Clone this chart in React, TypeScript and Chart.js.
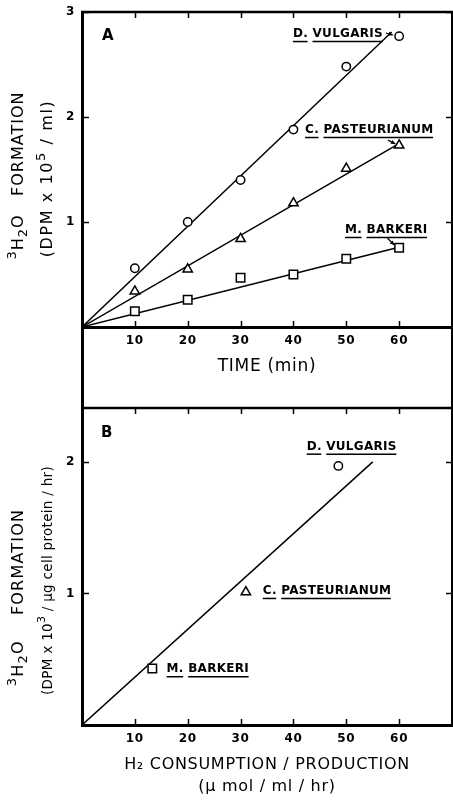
import React, { useEffect, useRef } from 'react';
import { Chart, registerables } from 'chart.js';
Chart.register(...registerables);

// ---------- Panel A data (TIME vs 3H2O formation, DPM x 10^5/ml) ----------
const timeMin = [10, 20, 30, 40, 50, 60];
const dVulgarisA = [0.56, 1.0, 1.4, 1.88, 2.48, 2.77];
const cPasteurianumA = [0.34, 0.55, 0.84, 1.18, 1.51, 1.73];
const mBarkeriA = [0.15, 0.26, 0.47, 0.5, 0.65, 0.755];
// fitted lines, panel A
const fitDvX = [0, 58.6];
const fitDvY = [0, 2.81];
const fitCpX = [0, 59.4];
const fitCpY = [0, 1.73];
const fitMbX = [0, 59.2];
const fitMbY = [0, 0.75];

// ---------- Panel B data (H2 consumption/production vs 3H2O formation) ----------
const speciesB = ['M. BARKERI', 'C. PASTEURIANUM', 'D. VULGARIS'];
const h2RateB = [13.3, 31.0, 48.5];
const tritiumB = [0.43, 1.01, 1.97];
const fitBX = [0, 55];
const fitBY = [0, 2.0];

// ---------- axes ----------
const xTickVals = [10, 20, 30, 40, 50, 60];
const yTicksA = [1, 2, 3];
const yTicksB = [1, 2];
const xMax = 70;
const yMaxA = 3;
const yMaxB = 2.41;

const FAMILY = "'DejaVu Sans', sans-serif";

const pts = (xs: number[], ys: number[]) => xs.map((x, i) => ({ x, y: ys[i] }));

type Part = { t: string; sup?: boolean; sub?: boolean };

function drawRich(ctx: CanvasRenderingContext2D, cx: number, cy: number, parts: Part[], size: number, rot: number, spacing: number) {
  ctx.save();
  ctx.translate(cx, cy);
  ctx.rotate(rot);
  ctx.letterSpacing = spacing + 'px';
  const fontFor = (p: Part) => `${p.sup || p.sub ? Math.round(size * 0.8) : size}px ${FAMILY}`;
  const widths = parts.map((p) => {
    ctx.font = fontFor(p);
    return ctx.measureText(p.t).width;
  });
  const total = widths.reduce((a, b) => a + b, 0);
  let x = -total / 2;
  ctx.textBaseline = 'middle';
  ctx.textAlign = 'left';
  ctx.fillStyle = '#000';
  parts.forEach((p, i) => {
    ctx.font = fontFor(p);
    const dy = p.sup ? -size * 0.42 : p.sub ? size * 0.32 : 0;
    ctx.fillText(p.t, x, dy);
    x += widths[i];
  });
  ctx.restore();
}

type LabelDef = { text: string; x: number; y: number; arrow?: [number, number, number, number] };

const labelsA: LabelDef[] = [
  { text: 'D. VULGARIS', x: 39.9, y: 2.79, arrow: [57.5, 2.8, 58.8, 2.78] },
  { text: 'C. PASTEURIANUM', x: 42.2, y: 1.876, arrow: [57.9, 1.78, 59.3, 1.743] },
  { text: 'M. BARKERI', x: 49.75, y: 0.924, arrow: [57.8, 0.845, 59.1, 0.78] },
];
const labelsB: LabelDef[] = [
  { text: speciesB[2], x: 42.5, y: 2.116 },
  { text: speciesB[1], x: 34.2, y: 1.019 },
  { text: speciesB[0], x: 16.0, y: 0.424 },
];

type YTitle = { lines: Part[][]; xs: number[]; dys: number[]; sizes: number[]; spacing: number[] };

function makePlugins(opts: {
  letter: string;
  letterPos: [number, number];
  labels: LabelDef[];
  frameBottom: number | null;
  yTitle: YTitle;
}) {
  return [
    {
      id: 'spacing',
      beforeDraw(chart: any) {
        chart.ctx.letterSpacing = '0.7px';
      },
    },
    {
      id: 'annot',
      afterDatasetsDraw(chart: any) {
        const { ctx, scales } = chart;
        const xs = scales.x;
        const ys = scales.y;
        ctx.save();
        ctx.fillStyle = '#000';
        ctx.strokeStyle = '#000';
        ctx.letterSpacing = '0.3px';
        ctx.font = `bold 12px ${FAMILY}`;
        ctx.textBaseline = 'middle';
        ctx.textAlign = 'left';
        opts.labels.forEach((l) => {
          const px = xs.getPixelForValue(l.x);
          const py = ys.getPixelForValue(l.y);
          ctx.fillText(l.text, px, py);
          // underline each word separately
          const words = l.text.split(' ');
          let cx = px;
          ctx.lineWidth = 1.5;
          words.forEach((w: string, i: number) => {
            const ww = ctx.measureText(w).width;
            ctx.beginPath();
            ctx.moveTo(cx, py + 7.5);
            ctx.lineTo(cx + ww - 0.5, py + 7.5);
            ctx.stroke();
            cx += ww + (i < words.length - 1 ? ctx.measureText(' ').width : 0);
          });
          if (l.arrow) {
            const [x1, y1, x2, y2] = l.arrow;
            const ax = xs.getPixelForValue(x1);
            const ay = ys.getPixelForValue(y1);
            const bx = xs.getPixelForValue(x2);
            const by = ys.getPixelForValue(y2);
            ctx.lineWidth = 1.3;
            ctx.beginPath();
            ctx.moveTo(ax, ay);
            ctx.lineTo(bx, by);
            ctx.stroke();
            const ang = Math.atan2(by - ay, bx - ax);
            ctx.beginPath();
            ctx.moveTo(bx, by);
            ctx.lineTo(bx - 5 * Math.cos(ang - 0.45), by - 5 * Math.sin(ang - 0.45));
            ctx.lineTo(bx - 5 * Math.cos(ang + 0.45), by - 5 * Math.sin(ang + 0.45));
            ctx.closePath();
            ctx.fill();
          }
        });
        // panel letter
        ctx.font = `bold 15px ${FAMILY}`;
        ctx.letterSpacing = '0px';
        ctx.fillText(opts.letter, chart.chartArea.left + opts.letterPos[0], chart.chartArea.top + opts.letterPos[1]);
        ctx.restore();
      },
    },
    {
      id: 'frame',
      afterDraw(chart: any) {
        const { ctx, chartArea, scales } = chart;
        const { left, right, top, bottom } = chartArea;
        const xs = scales.x;
        const ys = scales.y;
        ctx.save();
        ctx.strokeStyle = '#000';
        // top line
        ctx.lineWidth = 2.5;
        ctx.beginPath();
        ctx.moveTo(left - 1, top);
        ctx.lineTo(right + 1, top);
        ctx.stroke();
        // right line
        const fb = opts.frameBottom ?? bottom;
        ctx.lineWidth = 2;
        ctx.beginPath();
        ctx.moveTo(right, top);
        ctx.lineTo(right, fb + 1);
        ctx.stroke();
        // left line extension below the x axis
        if (opts.frameBottom !== null) {
          ctx.lineWidth = 3;
          ctx.beginPath();
          ctx.moveTo(left + 0.5, bottom);
          ctx.lineTo(left + 0.5, fb + 1);
          ctx.stroke();
        }
        // inward ticks on all four sides
        ctx.lineWidth = 1.5;
        xs.ticks.forEach((_t: any, i: number) => {
          const px = Math.round(xs.getPixelForTick(i)) + 0.5;
          ctx.beginPath();
          ctx.moveTo(px, bottom);
          ctx.lineTo(px, bottom - 6);
          ctx.moveTo(px, top);
          ctx.lineTo(px, top + 6);
          ctx.stroke();
        });
        ys.ticks.forEach((_t: any, i: number) => {
          const py = Math.round(ys.getPixelForTick(i)) + 0.5;
          ctx.beginPath();
          ctx.moveTo(left, py);
          ctx.lineTo(left + 7, py);
          ctx.moveTo(right, py);
          ctx.lineTo(right - 6, py);
          ctx.stroke();
        });
        // y-axis title (rotated rich text)
        const mid = (top + bottom) / 2;
        opts.yTitle.lines.forEach((parts, i) => {
          drawRich(ctx, opts.yTitle.xs[i], mid + opts.yTitle.dys[i], parts, opts.yTitle.sizes[i], -Math.PI / 2, opts.yTitle.spacing[i]);
        });
        ctx.restore();
      },
    },
  ];
}

const tickFont = { family: FAMILY, size: 12, weight: 'bold' as const };

function xScale(height: number, title: any) {
  return {
    type: 'linear' as const,
    min: 0,
    max: xMax,
    afterBuildTicks: (s: any) => {
      s.ticks = xTickVals.map((v) => ({ value: v }));
    },
    afterFit: (s: any) => {
      s.height = height;
      s.paddingLeft = 0;
      s.paddingRight = 0;
    },
    grid: { display: false, drawTicks: false },
    border: { display: true, width: 3, color: '#000' },
    ticks: { color: '#000', font: tickFont, padding: 7, maxRotation: 0, autoSkip: false },
    title,
  };
}

function yScale(max: number, tickVals: number[]) {
  return {
    type: 'linear' as const,
    min: 0,
    max,
    afterBuildTicks: (s: any) => {
      s.ticks = tickVals.map((v) => ({ value: v }));
    },
    afterFit: (s: any) => {
      s.width = 82;
      s.paddingTop = 0;
      s.paddingBottom = 0;
    },
    grid: { display: false, drawTicks: false },
    border: { display: true, width: 3, color: '#000' },
    ticks: { color: '#000', font: tickFont, padding: 7, autoSkip: false },
  };
}

const markerBase = {
  showLine: false,
  borderColor: '#000',
  backgroundColor: '#fff',
  borderWidth: 1.5,
};
const lineBase = {
  showLine: true,
  borderColor: '#000',
  borderWidth: 1.5,
  pointRadius: 0,
  fill: false,
};

export default function App() {
  const refA = useRef<HTMLCanvasElement>(null);
  const refB = useRef<HTMLCanvasElement>(null);

  useEffect(() => {
    const chartA = new Chart(refA.current as HTMLCanvasElement, {
      type: 'scatter',
      data: {
        datasets: [
          { ...markerBase, label: 'D. vulgaris', data: pts(timeMin, dVulgarisA), pointStyle: 'circle', pointRadius: 4.2, order: 0 },
          { ...markerBase, label: 'C. pasteurianum', data: pts(timeMin, cPasteurianumA), pointStyle: 'triangle', pointRadius: 5.4, order: 0 },
          { ...markerBase, label: 'M. barkeri', data: pts(timeMin, mBarkeriA), pointStyle: 'rect', pointRadius: 6, order: 0 },
          { ...lineBase, label: 'fit D', data: pts(fitDvX, fitDvY), order: 1 },
          { ...lineBase, label: 'fit C', data: pts(fitCpX, fitCpY), order: 1 },
          { ...lineBase, label: 'fit M', data: pts(fitMbX, fitMbY), order: 1 },
        ] as any,
      },
      options: {
        animation: false,
        responsive: false,
        events: [],
        layout: { autoPadding: false, padding: { top: 12, right: 1, left: 0, bottom: 0 } },
        plugins: { legend: { display: false }, tooltip: { enabled: false } },
        scales: {
          x: xScale(83, {
            display: true,
            text: 'TIME (min)',
            color: '#000',
            font: { family: FAMILY, size: 17 },
            padding: { top: 0, bottom: 33 },
          }),
          y: yScale(yMaxA, yTicksA),
        } as any,
      },
      plugins: makePlugins({
        letter: 'A',
        letterPos: [20, 24],
        labels: labelsA,
        frameBottom: 408,
        yTitle: {
          lines: [
            [{ t: '3', sup: true }, { t: 'H' }, { t: '2', sub: true }, { t: 'O   FORMATION' }],
            [{ t: '(DPM x 10' }, { t: '5', sup: true }, { t: ' / ml)' }],
          ],
          xs: [19, 48],
          dys: [6, 9],
          sizes: [16, 16],
          spacing: [1, 1.6],
        },
      }) as any,
    });

    const chartB = new Chart(refB.current as HTMLCanvasElement, {
      type: 'scatter',
      data: {
        datasets: [
          { ...markerBase, label: 'species', data: pts(h2RateB, tritiumB), pointStyle: ['rect', 'triangle', 'circle'], pointRadius: [6, 5.4, 4.2], order: 0 },
          { ...lineBase, label: 'fit', data: pts(fitBX, fitBY), order: 1 },
        ] as any,
      },
      options: {
        animation: false,
        responsive: false,
        events: [],
        layout: { autoPadding: false, padding: { top: 8, right: 1, left: 0, bottom: 0 } },
        plugins: { legend: { display: false }, tooltip: { enabled: false } },
        scales: {
          x: xScale(78, {
            display: true,
            text: ['H\u2082 CONSUMPTION / PRODUCTION', '(\u00b5 mol / ml / hr)'],
            color: '#000',
            font: { family: FAMILY, size: 16, lineHeight: 1.32 },
            padding: { top: 0, bottom: 6 },
          }),
          y: yScale(yMaxB, yTicksB),
        } as any,
      },
      plugins: makePlugins({
        letter: 'B',
        letterPos: [19, 25],
        labels: labelsB,
        frameBottom: null,
        yTitle: {
          lines: [
            [{ t: '3', sup: true }, { t: 'H' }, { t: '2', sub: true }, { t: 'O    FORMATION' }],
            [{ t: '(DPM x 10' }, { t: '3', sup: true }, { t: ' / \u00b5g cell protein / hr)' }],
          ],
          xs: [19, 48],
          dys: [31, 14],
          sizes: [16, 13.5],
          spacing: [1.2, 0.3],
        },
      }) as any,
    });

    return () => {
      chartA.destroy();
      chartB.destroy();
    };
  }, []);

  return (
    <div style={{ position: 'absolute', left: 0, top: 0, width: 453, height: 803, background: '#fff', overflow: 'hidden' }}>
      <canvas ref={refA} width={453} height={410} style={{ position: 'absolute', left: 0, top: 0, width: 453, height: 410 }} />
      <canvas ref={refB} width={453} height={403} style={{ position: 'absolute', left: 0, top: 400, width: 453, height: 403 }} />
    </div>
  );
}
